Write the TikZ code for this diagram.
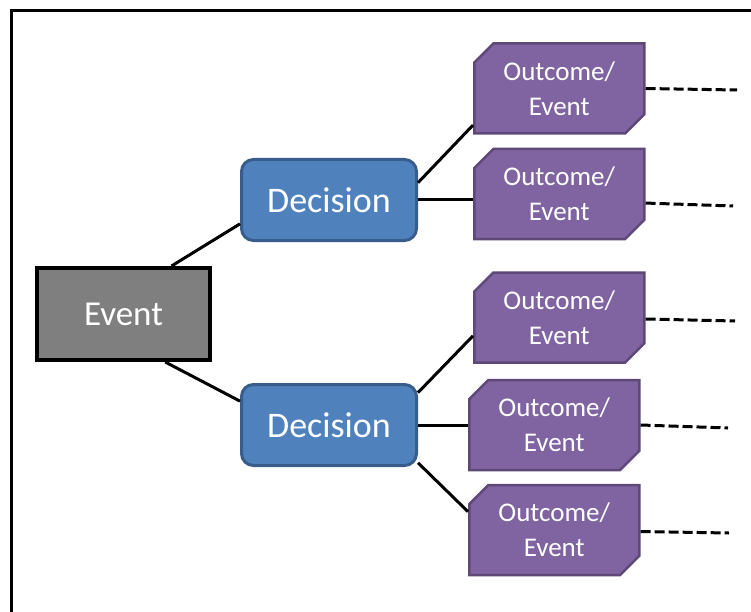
\documentclass[tikz,border=0pt]{standalone}
\usepackage{fontspec}
\setmainfont{Carlito}
\usetikzlibrary{positioning, shapes.misc}

\definecolor{evgray}{HTML}{7F7F7F}
\definecolor{decblue}{HTML}{4F81BD}
\definecolor{decedge}{HTML}{385D8A}
\definecolor{outpurple}{HTML}{8064A2}
\definecolor{outedge}{HTML}{5E4878}

\begin{document}
\begin{tikzpicture}[x=1pt, y=-1pt,
    eventbox/.style={draw=black, line width=4pt, fill=evgray, text=white,
      minimum width=173pt, minimum height=92pt, font=\fontsize{35}{40}\selectfont},
    decbox/.style={draw=decedge, line width=3pt, fill=decblue, text=white,
      rounded corners=12pt, minimum width=175pt, minimum height=81pt,
      font=\fontsize{36}{40}\selectfont},
    outbox/.style={chamfered rectangle, chamfered rectangle corners={north west, south east},
      chamfered rectangle xsep=16pt, draw=outedge, line width=2.5pt, fill=outpurple,
      text=white, align=center, minimum width=170pt, minimum height=90pt, inner sep=0pt,
      font=\fontsize{27}{35}\selectfont},
    link/.style={line width=3pt},
    dashline/.style={line width=3pt, dash pattern=on 10pt off 4pt}]
  \useasboundingbox (0,0) rectangle (751,612);
  \begin{scope}
    \clip (0,0) rectangle (751,612);
    \draw[line width=3pt] (11,630) |- (770,10.5);
  \end{scope}

  \node[eventbox] (Event) at (123.5,314) {Event};
  \node[decbox, above right=24pt and 28pt of Event] (Dec1) {Decision};
  \node[decbox, below right=21pt and 28pt of Event] (Dec2) {Decision};

  \node[outbox, right=55pt of Dec1, yshift=111.5pt] (Out1) {Outcome/\\Event};
  \node[outbox, right=55pt of Dec1, yshift=6pt] (Out2) {Outcome/\\Event};
  \node[outbox, right=55pt of Dec2, yshift=107.5pt] (Out3) {Outcome/\\Event};
  \node[outbox, right=50pt of Dec2] (Out4) {Outcome/\\Event};
  \node[outbox, right=50pt of Dec2, yshift=-105pt] (Out5) {Outcome/\\Event};

  \draw[link] (Event.45) -- (Dec1.195);
  \draw[link] (Event.-49) -- (Dec2.165);
  \draw[link] (Dec1.11) -- (Out1.203);
  \draw[link] (Dec1.east) -- (Dec1.east -| Out2.west);
  \draw[link] (Dec2.20) -- (Out3.192);
  \draw[link] (Dec2.east) -- (Out4.west);
  \draw[link] (Dec2.-23) -- (Out5.168);

  % dashed continuations
  \foreach \o/\a/\ex/\ey in {Out1/0/737/90, Out2/-6/733/206, Out3/-1/735/321,
      Out4/0/728/428, Out5/-1/729/533} {
    \coordinate (end\o) at (\ex,\ey);
    \draw[dashline] (\o.\a) -- (end\o);
  }
\end{tikzpicture}
\end{document}
